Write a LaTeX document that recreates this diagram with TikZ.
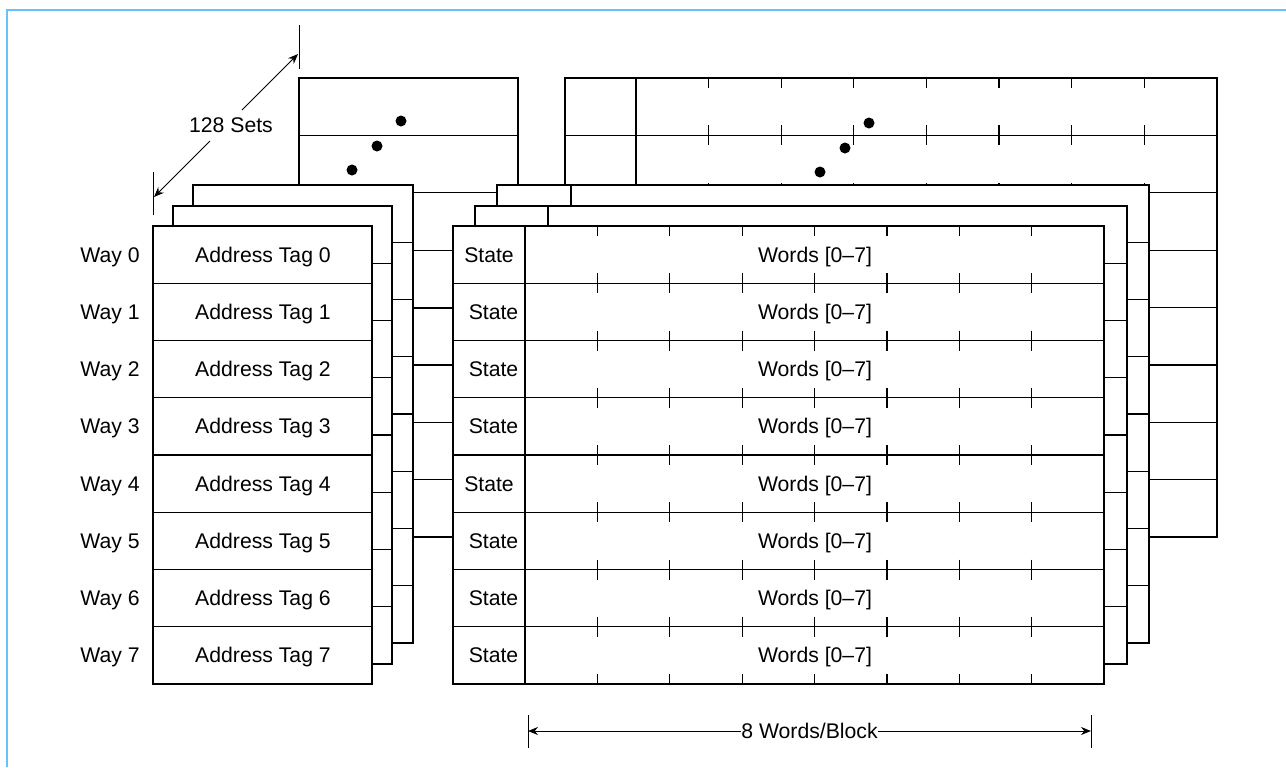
\documentclass[tikz,border=0pt]{standalone}
\usepackage{fontspec}
\setmainfont{Liberation Sans}
\usetikzlibrary{arrows.meta}
\definecolor{frameblue}{RGB}{102,194,255}

\begin{document}
\begin{tikzpicture}[
  x=0.5pt,y=-0.5pt,line width=0.6pt,
  >={Stealth[length=5pt,width=4pt]},
  lbl/.style={font=\fontsize{10.6}{12}\selectfont,inner sep=0pt},
  thk/.style={line width=1.1pt},
  dot/.style={circle,fill,inner sep=0pt,minimum size=5.5pt},
  dim/.style={line width=0.5pt}
]
\useasboundingbox (0,0) rectangle (1286,767);
\draw[frameblue,line width=1pt] (7,767) -- (7,10) -- (1286,10);

% last set, behind the others
\draw[fill=white] (299,78) rectangle (518,537);
\foreach \i in {1,...,7}
  \draw (299,78+57.4*\i) -- (518,78+57.4*\i);
\draw[thk] (299,307.6) -- (518,307.6);
\draw[fill=white] (565,78) rectangle (1217,537);
\draw[thk] (565,78) -- (565,537);
\draw (636,78) -- (636,537);
\foreach \i in {1,...,7}
  \draw (565,78+57.4*\i) -- (1217,78+57.4*\i);
\begin{scope}
  \clip (636,78) rectangle (1217,537);
  \foreach \i in {0,...,8}
    \foreach \j in {1,...,7}
      \draw (636+72.6*\j,68+57.4*\i) -- ++(0,20);
\end{scope}
\node[dot] (tdot1) at (401,121) {};
\node[dot] (tdot2) at (377,146) {};
\node[dot] (tdot3) at (352,170) {};
\node[dot] (wdot1) at (869,123) {};
\node[dot] (wdot2) at (845,148) {};
\node[dot] (wdot3) at (820,172) {};

% third set
\draw[fill=white] (193,185) rectangle (413,643);
\draw[thk] (193,643) -- (193,185);
\foreach \i in {1,...,7}
  \draw (193,185+57.25*\i) -- (413,185+57.25*\i);
\draw[fill=white] (497,185) rectangle (1149,643);
\draw[thk] (497,643) -- (497,185);
\draw[thk] (1149,185) -- (1149,643);
\draw (571,185) -- (571,643);
\foreach \i in {1,...,7}
  \draw (497,185+57.25*\i) -- (1149,185+57.25*\i);

% second set
\draw[fill=white] (173,206) rectangle (392,664);
\draw[thk] (392,206) -- (392,664);
\foreach \i in {1,...,7}
  \draw (173,206+57.25*\i) -- (392,206+57.25*\i);
\draw[fill=white] (475,206) rectangle (1127,664);
\draw (548,206) -- (548,664);
\foreach \i in {1,...,7}
  \draw (475,206+57.25*\i) -- (1127,206+57.25*\i);

% first set
\draw[fill=white] (153,226) rectangle (372,684);
\draw[thk] (153,226) -- (153,684) -- (372,684);
\foreach \i in {1,...,7}
  \draw (153,226+57.25*\i) -- (372,226+57.25*\i);
\draw[fill=white] (453,226) rectangle (1104,684);
\draw (525,226) -- (525,684);
\foreach \i in {1,...,7}
  \draw (453,226+57.25*\i) -- (1104,226+57.25*\i);
\begin{scope}
  \clip (525,226) rectangle (1104,684);
  \foreach \i in {0,...,8}
    \foreach \j in {1,...,7}
      \draw (525+72.4*\j,216+57.25*\i) -- ++(0,20);
\end{scope}

% row texts
\foreach \i/\dx in {0/0,1/4.5,2/4.5,3/4.5,4/0,5/4.5,6/4.5,7/4.5} {
  \node[lbl,anchor=base] (way\i) at (110,262+57.25*\i) {Way \i};
  \node[lbl,anchor=base] (tag\i) at (263,262+57.25*\i) {Address Tag \i};
  \node[lbl,anchor=base] (st\i) at (489+\dx,262+57.25*\i) {State};
  \node[lbl,anchor=base] (wd\i) at (815,262+57.25*\i) {Words [0--7]};
}

% dimensions
\node[lbl] (sets) at (231,125) {128 Sets};
\coordinate (s1) at (154,197);
\coordinate (s2) at (298,54);
\coordinate (g1) at (210,141);
\coordinate (g2) at (242,110);
\draw[dim] (153,172) -- (153,215);
\draw[dim] (299,25) -- (299,69);
\draw[dim,->] (g1) -- (s1);
\draw[dim,->] (g2) -- (s2);

\coordinate (b1) at (528,731);
\coordinate (b2) at (1091,731);
\draw[dim] (528,715) -- (528,748);
\draw[dim] (1091,715) -- (1091,748);
\draw[dim,<->] (b1) -- (b2) node[midway,lbl,fill=white] (blk) {8 Words/Block};
\end{tikzpicture}
\end{document}
